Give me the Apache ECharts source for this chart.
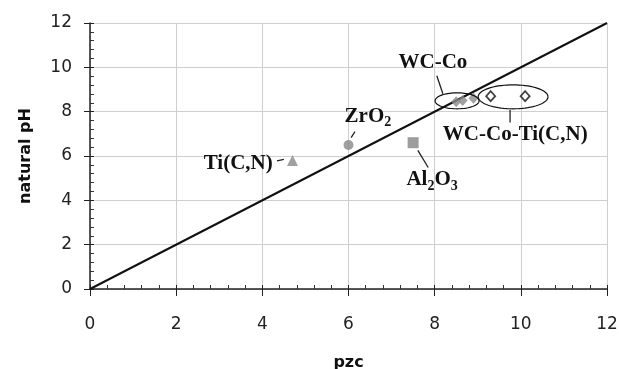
<!DOCTYPE html>
<html>
<head>
<meta charset="utf-8">
<script src="https://cdn.jsdelivr.net/npm/echarts@6/dist/echarts.min.js"></script>
<style>
  html, body { margin: 0; padding: 0; background: #fff; }
  #chart { width: 619px; height: 369px; }
</style>
</head>
<body>
<div id="chart"></div>
<script>
// measured points: [pzc, natural pH]
const tiCN = [[4.7, 5.8]];
const zrO2 = [[6.0, 6.5]];
const al2O3 = [[7.5, 6.6]];
const wcCo = [[8.5, 8.45], [8.65, 8.5], [8.9, 8.6]];
const wcCoTiCN = [[9.3, 8.7], [10.1, 8.7]];
const parity = [[0, 0], [12, 12]];

// annotations, in data units
const labelTexts = ['{m|WC-Co}', '{m|WC-Co-Ti(C,N)}', '{m|Al}{s|2}{m|O}{s|3}', '{m|ZrO}{s|2}', '{m|Ti(C,N)}'];
const labelAt = [[7.96, 10.2], [9.87, 6.97], [7.94, 4.85], [6.45, 7.72], [3.44, 5.66]];
const leaders = [
  [8.05, 9.62, 8.19, 8.81],
  [9.75, 8.09, 9.75, 7.51],
  [7.61, 6.25, 7.85, 5.48],
  [6.15, 7.1, 6.06, 6.83],
  [4.34, 5.78, 4.5, 5.85]
];
const ellipses = [[8.52, 8.49, 0.51, 0.36], [9.82, 8.67, 0.81, 0.54]];

const chart = echarts.init(document.getElementById('chart'));

const serif = '"Liberation Serif", "Times New Roman", serif';
const sans = '"DejaVu Sans", "Liberation Sans", Arial, sans-serif';

// overlay axes only carry the inward minor ticks
function tickOverlay() {
  return {
    type: 'value', min: 0, max: 12, interval: 2,
    axisLine: { show: false },
    axisTick: { show: true, inside: true, length: 4, lineStyle: { color: '#222' } },
    minorTick: { show: true, splitNumber: 5, length: 4, lineStyle: { color: '#333' } },
    axisLabel: { show: false },
    splitLine: { show: false }
  };
}

const option = {
  animation: false,
  backgroundColor: '#fff',
  grid: { left: 90, right: 12, top: 23, bottom: 80, outerBoundsMode: 'none', containLabel: false },
  xAxis: [{
    type: 'value', min: 0, max: 12, interval: 2,
    name: 'pzc', nameLocation: 'middle', nameGap: 66,
    nameTextStyle: { fontFamily: sans, fontWeight: 'bold', fontSize: 16, color: '#111' },
    axisLine: { onZero: false, lineStyle: { color: '#222', width: 1.5 } },
    axisTick: { show: true, length: 7, lineStyle: { color: '#222' } },
    axisLabel: { margin: 27, fontFamily: sans, fontSize: 17, color: '#222' },
    splitLine: { show: true, lineStyle: { color: '#cfcfcf', width: 1 } }
  }, Object.assign(tickOverlay(), { position: 'bottom' })],
  yAxis: [{
    type: 'value', min: 0, max: 12, interval: 2,
    name: 'natural pH', nameLocation: 'middle', nameGap: 56,
    nameTextStyle: { fontFamily: sans, fontWeight: 'bold', fontSize: 16, color: '#111' },
    axisLine: { onZero: false, lineStyle: { color: '#222', width: 1.5 } },
    axisTick: { show: true, length: 6, lineStyle: { color: '#222' } },
    axisLabel: { margin: 18, fontFamily: sans, fontSize: 17, color: '#222' },
    splitLine: { show: true, lineStyle: { color: '#cfcfcf', width: 1 } }
  }, Object.assign(tickOverlay(), { position: 'left' })],
  series: [
    {
      type: 'line', data: parity, symbol: 'none', silent: true,
      lineStyle: { color: '#111', width: 2 }, z: 3
    },
    { type: 'scatter', data: tiCN, symbol: 'triangle', symbolSize: 11, itemStyle: { color: '#888' }, z: 4 },
    { type: 'scatter', data: zrO2, symbol: 'circle', symbolSize: 10, itemStyle: { color: '#888' }, z: 4 },
    { type: 'scatter', data: al2O3, symbol: 'rect', symbolSize: 11, itemStyle: { color: '#858585' }, z: 4 },
    { type: 'scatter', data: wcCo, symbol: 'diamond', symbolSize: [10, 11], itemStyle: { color: '#8a8a8a' }, z: 4 },
    {
      type: 'scatter', data: wcCoTiCN, symbol: 'diamond', symbolSize: [9, 10],
      itemStyle: { color: '#fff', borderColor: '#111', borderWidth: 1.8 }, z: 4
    },
    {
      // ellipses around the WC groups
      type: 'custom', data: ellipses, silent: true, z: 5,
      encode: { x: 0, y: 1 },
      renderItem: function (params, api) {
        const cx = api.value(0), cy = api.value(1), rx = api.value(2), ry = api.value(3);
        const pts = [];
        for (let k = 0; k <= 72; k++) {
          const a = k / 72 * Math.PI * 2;
          pts.push(api.coord([cx + rx * Math.cos(a), cy + ry * Math.sin(a)]));
        }
        return {
          type: 'polyline', shape: { points: pts },
          style: { stroke: '#111', lineWidth: 1.2, fill: null }
        };
      }
    },
    {
      // leader lines
      type: 'custom', data: leaders, silent: true, z: 5,
      encode: { x: [0, 2], y: [1, 3] },
      renderItem: function (params, api) {
        const a = api.coord([api.value(0), api.value(1)]);
        const b = api.coord([api.value(2), api.value(3)]);
        return {
          type: 'line', shape: { x1: a[0], y1: a[1], x2: b[0], y2: b[1] },
          style: { stroke: '#222', lineWidth: 1.3 }
        };
      }
    },
    {
      // text labels
      type: 'custom', data: labelAt, silent: true, z: 6,
      encode: { x: 0, y: 1 },
      renderItem: function (params, api) {
        const p = api.coord([api.value(0), api.value(1)]);
        return {
          type: 'text', x: p[0], y: p[1],
          style: {
            text: labelTexts[params.dataIndex],
            align: 'center', verticalAlign: 'middle',
            fill: '#111',
            rich: {
              m: { fontFamily: serif, fontWeight: 'bold', fontSize: 21, lineHeight: 21, verticalAlign: 'top', fill: '#111' },
              s: { fontFamily: serif, fontWeight: 'bold', fontSize: 14, padding: [10, 0, 0, 0], verticalAlign: 'bottom', fill: '#111' }
            }
          }
        };
      }
    }
  ]
};

chart.setOption(option);
</script>
</body>
</html>
